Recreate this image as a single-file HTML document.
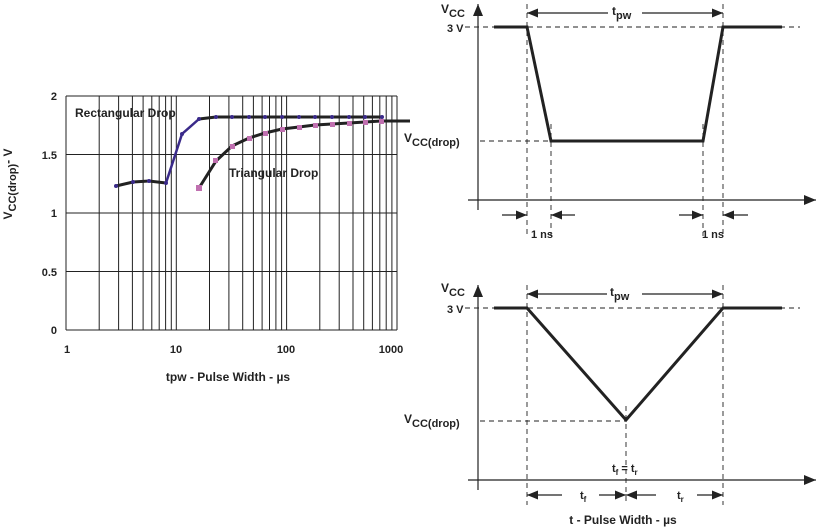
<!DOCTYPE html>
<html><head><meta charset="utf-8"><style>
html,body{margin:0;padding:0;background:#fff}
svg{display:block}
text{font-family:"Liberation Sans",Arial,sans-serif;font-weight:bold;fill:#222}
</style></head><body>
<svg width="822" height="529" viewBox="0 0 822 529" xmlns="http://www.w3.org/2000/svg">
<defs>
<marker id="ah" viewBox="0 0 11 9" refX="11" refY="4.5" markerWidth="11" markerHeight="9" markerUnits="userSpaceOnUse" orient="auto"><path d="M0,0 L11,4.5 L0,9 Z" fill="#222"/></marker>
<marker id="au" viewBox="0 0 12 10" refX="12" refY="5" markerWidth="12" markerHeight="10" markerUnits="userSpaceOnUse" orient="auto"><path d="M0,0 L12,5 L0,10 Z" fill="#222"/></marker>
</defs>
<!-- LEFT CHART grid -->
<g stroke="#222" stroke-width="1" fill="none">
<path d="M66,96 H397 M66,154.5 H397 M66,213 H397 M66,271.5 H397 M66,330 H397"/>
<path d="
M66,96V330 M99.2,96V330 M118.6,96V330 M132.4,96V330 M143.1,96V330 M151.8,96V330 M159.2,96V330 M165.6,96V330 M171.3,96V330
M176.3,96V330 M209.5,96V330 M228.9,96V330 M242.7,96V330 M253.4,96V330 M262.1,96V330 M269.5,96V330 M275.9,96V330 M281.6,96V330
M286.6,96V330 M319.8,96V330 M339.2,96V330 M353,96V330 M363.7,96V330 M372.4,96V330 M379.8,96V330 M386.2,96V330 M391.9,96V330 M397,96V330"/>
</g>
<g font-size="11">
<text x="57" y="100" text-anchor="end">2</text>
<text x="57" y="159" text-anchor="end">1.5</text>
<text x="57" y="217" text-anchor="end">1</text>
<text x="57" y="276" text-anchor="end">0.5</text>
<text x="57" y="334" text-anchor="end">0</text>
<text x="67" y="353" text-anchor="middle">1</text>
<text x="176" y="353" text-anchor="middle">10</text>
<text x="286" y="353" text-anchor="middle">100</text>
<text x="391" y="353" text-anchor="middle">1000</text>
<text x="228" y="381" text-anchor="middle" font-size="12">tpw - Pulse Width - µs</text>
<text x="75" y="117" font-size="12">Rectangular Drop</text>
<text x="229" y="177" font-size="12">Triangular Drop</text>
<text transform="translate(12,184) rotate(-90)" text-anchor="middle" font-size="12">V<tspan font-size="11" dy="4">CC(drop)</tspan><tspan dy="-4">- V</tspan></text>
</g>
<!-- curves -->
<polyline fill="none" stroke="#222" stroke-width="3" points="116,186 133,182 149,181 166,183"/>
<polyline fill="none" stroke="#3a2a8a" stroke-width="2.5" points="166,183 182,134 199,119"/>
<polyline fill="none" stroke="#222" stroke-width="3" points="199,119 216,117 383,117"/>
<polyline fill="none" stroke="#222" stroke-width="3" points="199,188 216,161 232,146 249,138 265,133 282,129 299,127 315,125 332,124 349,123 365,122 381,121 410,121"/>
<g fill="#3a2a8a">
<circle cx="116" cy="186" r="2"/><circle cx="133" cy="182" r="2"/><circle cx="149" cy="181" r="2"/><circle cx="166" cy="183" r="2"/><circle cx="182" cy="134" r="2"/><circle cx="199" cy="119" r="2"/><circle cx="216" cy="117" r="2"/><circle cx="232" cy="117" r="2"/><circle cx="249" cy="117" r="2"/><circle cx="265" cy="117" r="2"/><circle cx="282" cy="117" r="2"/><circle cx="299" cy="117" r="2"/><circle cx="315" cy="117" r="2"/><circle cx="332" cy="117" r="2"/><circle cx="349" cy="117" r="2"/><circle cx="365" cy="117" r="2"/><circle cx="382" cy="117" r="2"/>
</g>
<g fill="#c070b0">
<rect x="196" y="185" width="6" height="6"/><rect x="213" y="158" width="5" height="5"/><rect x="230" y="144" width="5" height="5"/><rect x="247" y="136" width="5" height="5"/><rect x="263" y="131" width="5" height="5"/><rect x="280" y="127" width="5" height="5"/><rect x="297" y="125" width="5" height="5"/><rect x="313" y="123" width="5" height="5"/><rect x="330" y="122" width="5" height="5"/><rect x="347" y="121" width="5" height="5"/><rect x="363" y="120" width="5" height="5"/><rect x="379" y="119" width="5" height="5"/>
</g>

<!-- RIGHT TOP -->
<g stroke="#222" fill="none">
<line x1="478" y1="210" x2="478" y2="4" stroke-width="1.2" marker-end="url(#au)"/>
<line x1="468" y1="200" x2="816" y2="200" stroke-width="1.2" marker-end="url(#au)"/>
<g stroke-dasharray="5,4" stroke-width="0.9">
<line x1="465" y1="27" x2="800" y2="27"/>
<line x1="480" y1="141" x2="551" y2="141"/>
<line x1="527" y1="4" x2="527" y2="236"/>
<line x1="551" y1="124" x2="551" y2="236"/>
<line x1="703" y1="124" x2="703" y2="236"/>
<line x1="723" y1="4" x2="723" y2="236"/>
</g>
<polyline stroke-width="3" points="494,27 527,27 551,141 703,141 723,27 782,27"/>
<line x1="608" y1="13" x2="527" y2="13" stroke-width="1.2" marker-end="url(#ah)"/>
<line x1="642" y1="13" x2="723" y2="13" stroke-width="1.2" marker-end="url(#ah)"/>
<line x1="502" y1="215" x2="527" y2="215" stroke-width="1.2" marker-end="url(#ah)"/>
<line x1="575" y1="215" x2="551" y2="215" stroke-width="1.2" marker-end="url(#ah)"/>
<line x1="679" y1="215" x2="703" y2="215" stroke-width="1.2" marker-end="url(#ah)"/>
<line x1="748" y1="215" x2="723" y2="215" stroke-width="1.2" marker-end="url(#ah)"/>
</g>
<g font-size="11">
<text x="441" y="13" font-size="12">V<tspan font-size="11" dy="4">CC</tspan></text>
<text x="447" y="32">3 V</text>
<text x="404" y="142" font-size="12">V<tspan font-size="11" dy="4">CC(drop)</tspan></text>
<text x="612" y="15" font-size="12">t<tspan font-size="11" dy="4">pw</tspan></text>
<text x="531" y="238">1 ns</text>
<text x="702" y="238">1 ns</text>
</g>

<!-- RIGHT BOTTOM -->
<g stroke="#222" fill="none">
<line x1="478" y1="490" x2="478" y2="285" stroke-width="1.2" marker-end="url(#au)"/>
<line x1="468" y1="480" x2="816" y2="480" stroke-width="1.2" marker-end="url(#au)"/>
<g stroke-dasharray="5,4" stroke-width="0.9">
<line x1="465" y1="308" x2="800" y2="308"/>
<line x1="480" y1="421" x2="626" y2="421"/>
<line x1="527" y1="285" x2="527" y2="505"/>
<line x1="626" y1="406" x2="626" y2="505"/>
<line x1="723" y1="285" x2="723" y2="505"/>
</g>
<polyline stroke-width="3" points="494,308 527,308 626,420 723,308 782,308"/>
<line x1="607" y1="294" x2="527" y2="294" stroke-width="1.2" marker-end="url(#ah)"/>
<line x1="642" y1="294" x2="723" y2="294" stroke-width="1.2" marker-end="url(#ah)"/>
<line x1="562" y1="495" x2="527" y2="495" stroke-width="1.2" marker-end="url(#ah)"/>
<line x1="599" y1="495" x2="626" y2="495" stroke-width="1.2" marker-end="url(#ah)"/>
<line x1="656" y1="495" x2="626" y2="495" stroke-width="1.2" marker-end="url(#ah)"/>
<line x1="697" y1="495" x2="723" y2="495" stroke-width="1.2" marker-end="url(#ah)"/>
</g>
<g font-size="11">
<text x="441" y="292" font-size="12">V<tspan font-size="11" dy="4">CC</tspan></text>
<text x="447" y="313">3 V</text>
<text x="404" y="423" font-size="12">V<tspan font-size="11" dy="4">CC(drop)</tspan></text>
<text x="610" y="296" font-size="12">t<tspan font-size="11" dy="4">pw</tspan></text>
<text x="612" y="472">t<tspan font-size="8" dy="3">f</tspan><tspan dy="-3"> = t</tspan><tspan font-size="8" dy="3">r</tspan></text>
<text x="580" y="499">t<tspan font-size="8" dy="3">f</tspan></text>
<text x="677" y="499">t<tspan font-size="8" dy="3">r</tspan></text>
<text x="623" y="524" text-anchor="middle" font-size="12">t - Pulse Width - µs</text>
</g>
</svg>
</body></html>
